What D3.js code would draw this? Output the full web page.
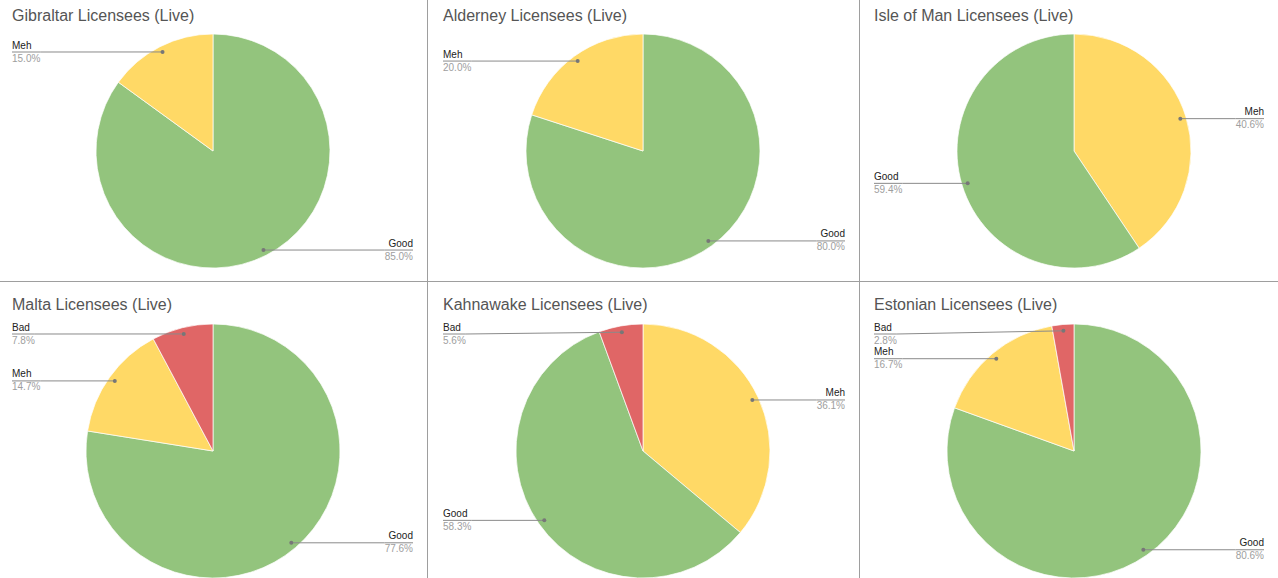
<!DOCTYPE html>
<html>
<head>
    <meta charset="utf-8" />
    <title>Licensees (Live)</title>
    <style>
        body { margin: 0; background: #fff; }
        text { font-family: Arial, "Liberation Sans", sans-serif; }
    </style>
</head>
<body>
    <div id="chart"></div>
    <script src="https://cdn.jsdelivr.net/npm/d3@7"></script>
    <script>
        // ---------------- data ----------------
        var titles = [
            "Gibraltar Licensees (Live)",
            "Alderney Licensees (Live)",
            "Isle of Man Licensees (Live)",
            "Malta Licensees (Live)",
            "Kahnawake Licensees (Live)",
            "Estonian Licensees (Live)"
        ];
        var sliceNames = [
            ["Good", "Meh"],
            ["Good", "Meh"],
            ["Meh", "Good"],
            ["Good", "Meh", "Bad"],
            ["Meh", "Good", "Bad"],
            ["Good", "Meh", "Bad"]
        ];
        var sliceValues = [
            [85.0, 15.0],
            [80.0, 20.0],
            [40.6, 59.4],
            [77.6, 14.7, 7.8],
            [36.1, 58.3, 5.6],
            [80.6, 16.7, 2.8]
        ];
        var categories = ["Good", "Meh", "Bad"];
        var palette = ["#93c47d", "#ffd966", "#e06666"];

        // ---------------- layout ----------------
        var W = 1278, H = 578;
        var colRight = [427, 859, 1278];
        var titleX = [12, 443, 874];
        var centerX = [213, 643, 1074];
        var rowTop = [0, 282];
        var titleY = [21, 310];
        var centerY = [151, 451];
        var radius = [117, 127];

        var color = d3.scaleOrdinal().domain(categories).range(palette);
        var fmt = d3.format(".1f");

        var svg = d3.select("#chart")
            .append("svg")
            .attr("width", W)
            .attr("height", H);

        // panel separators
        svg.append("line")
            .attr("x1", 427.5).attr("x2", 427.5).attr("y1", 0).attr("y2", H)
            .attr("stroke", "#9e9e9e");
        svg.append("line")
            .attr("x1", 859.5).attr("x2", 859.5).attr("y1", 0).attr("y2", H)
            .attr("stroke", "#9e9e9e");
        svg.append("line")
            .attr("x1", 0).attr("x2", W).attr("y1", 281.5).attr("y2", 281.5)
            .attr("stroke", "#9e9e9e");

        var pie = d3.pie().sort(null).value(function (d) { return d.value; });

        titles.forEach(function (title, i) {
            var col = i % 3, row = Math.floor(i / 3);
            var cx = centerX[col], cy = centerY[row], r = radius[row];
            var data = sliceNames[i].map(function (n, j) {
                return { name: n, value: sliceValues[i][j] };
            });
            var arcs = pie(data);
            var arc = d3.arc().innerRadius(0).outerRadius(r);
            var dotArc = d3.arc().innerRadius(r * 0.95).outerRadius(r * 0.95);

            var g = svg.append("g").attr("class", "panel");

            g.append("text")
                .attr("x", titleX[col])
                .attr("y", titleY[row])
                .attr("font-size", 16)
                .attr("fill", "#555")
                .text(title);

            var pg = g.append("g").attr("transform", "translate(" + cx + "," + cy + ")");
            pg.selectAll("path")
                .data(arcs)
                .join("path")
                .attr("d", arc)
                .attr("fill", function (d) { return color(d.data.name); })
                .attr("stroke", "#fff")
                .attr("stroke-width", 0.7);

            // leader labels
            arcs.forEach(function (d) {
                var c = dotArc.centroid(d);
                var dx = cx + c[0], dy = cy + c[1];
                var left = dx < cx;
                var ly = Math.max(dy, rowTop[row] + 52);
                var lx = left ? titleX[col] : colRight[col] - 14;

                var name = g.append("text")
                    .attr("x", lx)
                    .attr("y", ly - 3.5)
                    .attr("font-size", 10)
                    .attr("fill", "#222")
                    .attr("text-anchor", left ? "start" : "end")
                    .text(d.data.name);
                var pct = g.append("text")
                    .attr("x", lx)
                    .attr("y", ly + 9.5)
                    .attr("font-size", 10)
                    .attr("fill", "#9e9e9e")
                    .attr("text-anchor", left ? "start" : "end")
                    .text(fmt(d.data.value) + "%");

                var tw = Math.max(name.node().getComputedTextLength(), pct.node().getComputedTextLength());
                var ex = left ? lx + tw : lx - tw;
                g.append("path")
                    .attr("d", d3.line()([[lx, ly], [ex, ly], [dx, dy]]))
                    .attr("fill", "none")
                    .attr("stroke", "#8a8a8a")
                    .attr("stroke-width", 1);
                g.append("circle")
                    .attr("cx", dx).attr("cy", dy).attr("r", 2)
                    .attr("fill", "#777");
            });
        });
    </script>
</body>
</html>
